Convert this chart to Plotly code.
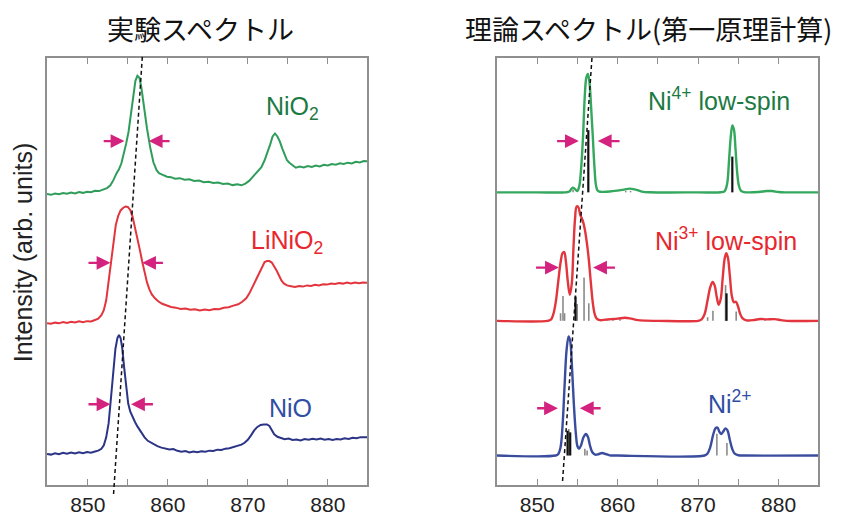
import plotly.graph_objects as go

# ---------------- Experimental spectra (left panel) ----------------
# energy (eV) and intensity (arb. units, vertically offset)
niO2_E = [844.9, 845.4, 845.9, 846.4, 846.9, 847.4, 847.9, 848.4, 848.9, 849.4, 849.9, 850.4, 850.9, 851.4,
          851.9, 852.4, 852.8, 853.2, 853.6, 853.9, 854.2, 854.5, 854.8, 855.1, 855.4, 855.7, 855.95, 856.2,
          856.45, 856.7, 857.0, 857.4, 857.8, 858.2, 858.6, 858.9, 859.3, 859.9, 860.4, 860.9, 861.5, 862.1,
          862.7, 863.3, 863.9, 864.5, 865.1, 865.7, 866.3, 866.9, 867.5, 868.1, 868.7, 869.2, 869.7, 870.2,
          870.7, 871.2, 871.7, 872.1, 872.5, 872.8, 873.1, 873.4, 873.7, 874.0, 874.3, 874.6, 874.9, 875.2,
          875.6, 876.0, 876.5, 877.0, 877.5, 878.0, 878.5, 879.0, 879.5, 880.0, 880.5, 881.0, 881.5, 882.0,
          882.5, 883.0, 883.5, 884.0, 884.5, 884.9]
niO2_I = [293.0, 292.2, 293.6, 292.8, 294.1, 293.3, 294.5, 293.6, 295.0, 294.2, 295.3, 294.8, 296.2, 296.0,
          297.5, 299.0, 301.5, 307.0, 314.0, 318.0, 324.0, 333.0, 344.0, 356.0, 374.0, 396.0, 407.0, 412.0,
          410.0, 400.0, 382.0, 359.0, 340.0, 325.0, 317.0, 314.0, 312.5, 310.5, 310.0, 308.5, 309.0, 307.5,
          307.8, 306.2, 306.6, 305.0, 305.4, 304.2, 304.6, 303.2, 303.6, 302.0, 302.8, 301.8, 303.5, 306.5,
          311.0, 315.0, 320.0, 327.0, 335.0, 343.0, 351.0, 354.0, 351.0, 346.0, 339.0, 332.0, 327.0, 324.5,
          321.5, 319.5, 320.8, 319.8, 321.2, 320.2, 321.6, 320.8, 322.4, 321.8, 323.2, 322.6, 324.0, 323.2,
          324.6, 323.8, 325.4, 324.8, 326.2, 326.0]

liniO2_E = [844.9, 845.4, 845.9, 846.4, 846.9, 847.4, 847.9, 848.4, 848.9, 849.4, 849.9, 850.4, 850.9, 851.3,
            851.7, 852.0, 852.3, 852.6, 852.9, 853.2, 853.5, 853.8, 854.1, 854.4, 854.7, 855.0, 855.3, 855.6,
            855.9, 856.2, 856.5, 856.8, 857.1, 857.4, 857.7, 858.0, 858.4, 858.8, 859.3, 859.8, 860.4, 861.0,
            861.6, 862.2, 862.8, 863.4, 864.0, 864.6, 865.2, 865.8, 866.4, 867.0, 867.6, 868.2, 868.8, 869.3,
            869.8, 870.2, 870.6, 871.0, 871.4, 871.8, 872.1, 872.4, 872.7, 873.0, 873.3, 873.6, 873.9, 874.2,
            874.5, 874.9, 875.4, 875.9, 876.4, 876.9, 877.4, 877.9, 878.4, 878.9, 879.4, 879.9, 880.4, 880.9,
            881.4, 881.9, 882.4, 882.9, 883.4, 883.9, 884.4, 884.9]
liniO2_I = [163.0, 162.3, 163.5, 162.8, 164.0, 163.2, 164.3, 163.6, 164.8, 164.0, 165.0, 164.6, 166.2, 167.5,
            171.0, 176.0, 186.0, 205.0, 228.0, 247.0, 262.0, 271.0, 276.5, 279.0, 280.5, 280.0, 277.0, 270.0,
            260.0, 249.0, 237.0, 225.0, 214.0, 204.0, 197.0, 192.0, 188.0, 185.0, 182.5, 181.0, 179.2, 178.6,
            177.2, 177.8, 176.4, 176.9, 175.8, 176.6, 176.0, 177.2, 177.0, 178.4, 179.0, 180.6, 182.0, 184.5,
            188.0, 193.0, 200.0, 207.0, 214.0, 221.0, 224.5, 225.5, 225.5, 224.0, 220.5, 216.0, 211.0, 206.0,
            203.0, 201.0, 200.2, 199.4, 200.4, 199.8, 201.0, 200.4, 201.6, 201.0, 202.2, 201.8, 203.0, 202.4,
            203.4, 202.8, 203.8, 203.0, 204.0, 203.2, 204.0, 203.6]

niO_E = [844.9, 845.4, 845.9, 846.4, 846.9, 847.4, 847.9, 848.4, 848.9, 849.4, 849.9, 850.4, 850.9, 851.3,
         851.7, 852.0, 852.3, 852.6, 852.9, 853.2, 853.45, 853.7, 853.9, 854.1, 854.3, 854.55, 854.8, 855.05,
         855.3, 855.6, 855.9, 856.2, 856.5, 856.8, 857.1, 857.5, 857.9, 858.3, 858.7, 859.2, 859.7, 860.2,
         860.7, 861.2, 861.7, 862.2, 862.7, 863.2, 863.7, 864.2, 864.7, 865.2, 865.7, 866.2, 866.7, 867.2,
         867.7, 868.2, 868.7, 869.2, 869.6, 870.0, 870.4, 870.8, 871.2, 871.6, 872.0, 872.4, 872.7, 873.0,
         873.3, 873.7, 874.1, 874.6, 875.1, 875.6, 876.1, 876.6, 877.1, 877.6, 878.1, 878.6, 879.1, 879.6,
         880.1, 880.6, 881.1, 881.6, 882.1, 882.6, 883.1, 883.6, 884.1, 884.6, 884.9]
niO_I = [31.3, 30.6, 32.0, 31.0, 32.4, 31.6, 32.8, 31.8, 32.9, 32.1, 33.2, 32.6, 33.8, 34.6,
         36.5, 40.0, 48.0, 62.0, 88.0, 116.0, 137.0, 148.0, 151.0, 148.0, 138.0, 118.0, 97.0, 82.0,
         74.0, 68.0, 63.5, 59.0, 55.0, 52.0, 48.0, 44.5, 42.6, 40.6, 39.2, 37.6, 37.0, 35.8,
         36.2, 34.4, 33.6, 34.2, 32.8, 33.6, 32.9, 34.0, 33.4, 34.6, 34.2, 35.6, 35.2, 36.6,
         37.0, 38.2, 39.0, 40.6, 42.5, 45.5, 50.0, 55.0, 58.5, 60.5, 60.8, 61.0, 59.5, 55.5,
         51.0, 48.6, 47.4, 46.2, 46.8, 45.4, 45.8, 44.9, 46.2, 45.6, 46.6, 45.8, 46.8, 45.6,
         46.4, 45.4, 46.2, 45.8, 47.0, 46.4, 47.6, 47.0, 48.2, 47.6, 48.0]

# ---------------- Theoretical spectra (right panel) ----------------
ni4_E = [845.0, 850.0, 853.5, 854.0, 854.4, 854.7, 854.95, 855.2, 855.45, 855.7, 855.9, 856.1, 856.3, 856.5,
         856.7, 856.9, 857.1, 857.3, 857.5, 857.8, 858.2, 859.0, 860.0, 860.8, 861.5, 862.2, 863.0, 864.0,
         870.0, 872.8, 873.3, 873.6, 873.85, 874.05, 874.25, 874.45, 874.65, 874.85, 875.05, 875.3, 875.7,
         877.5, 878.5, 879.2, 880.0, 881.0, 884.9]
ni4_I = [294.7, 294.7, 294.7, 295.5, 299.5, 298.0, 296.0, 300.0, 318.0, 352.0, 390.0, 410.0, 414.0, 405.0,
         380.0, 352.0, 322.0, 302.0, 296.5, 295.3, 295.2, 295.5, 296.5, 297.5, 298.5, 297.5, 295.5, 294.8,
         294.7, 294.8, 296.0, 303.0, 328.0, 350.0, 362.0, 358.0, 338.0, 315.0, 302.0, 296.5, 295.0,
         295.0, 296.0, 296.0, 295.0, 294.7, 294.7]
ni4_base = 294.7
ni4_stick_E_strong = [856.35, 874.25]
ni4_stick_h_strong = [62.6, 36.0]
ni4_stick_E_weak = [854.45, 861.0, 861.6]
ni4_stick_h_weak = [3.0, 1.5, 1.5]

ni3_E = [845.0, 851.3, 851.7, 852.0, 852.3, 852.6, 852.9, 853.15, 853.35, 853.55, 853.8, 854.05, 854.3, 854.5,
         854.7, 854.9, 855.1, 855.35, 855.65, 855.9, 856.15, 856.4, 856.65, 856.9, 857.15, 857.4, 857.8,
         858.5, 859.2, 860.0, 860.9, 861.7, 862.5, 863.5, 865.0, 870.0, 870.4, 870.8, 871.15, 871.5, 871.8,
         872.05, 872.3, 872.55, 872.8, 873.05, 873.3, 873.5, 873.7, 873.95, 874.2, 874.45, 874.7, 874.95,
         875.2, 875.5, 876.0, 877.0, 877.7, 878.5, 879.5, 880.3, 881.0, 884.9]
ni3_I = [165.3, 165.3, 166.5, 172.0, 184.0, 204.0, 224.0, 233.5, 234.5, 226.0, 205.0, 191.5, 203.0, 238.0,
         268.0, 280.5, 280.0, 272.0, 266.5, 258.0, 245.0, 228.0, 205.0, 184.0, 172.0, 167.5, 166.0,
         166.5, 167.0, 167.5, 168.5, 167.5, 166.0, 165.5, 165.3, 165.3, 166.5, 172.0, 185.0, 199.0, 204.5,
         201.0, 190.0, 181.5, 187.0, 208.0, 228.0, 233.5, 229.0, 210.0, 190.0, 184.0, 184.5, 180.0,
         173.0, 168.0, 165.8, 166.2, 167.2, 166.8, 167.0, 166.0, 165.3, 165.3]
ni3_base = 165.3
ni3_stick_E_strong = [854.76, 873.53]
ni3_stick_h_strong = [24.4, 27.7]
ni3_stick_E_weak = [852.9, 853.2, 853.4, 854.97, 855.82, 856.41, 871.18, 871.84, 873.41, 874.73,
                    858.6, 859.4, 860.3, 878.3]
ni3_stick_h_weak = [7.7, 25.0, 7.7, 17.0, 43.7, 17.7, 3.7, 10.3, 36.0, 9.3,
                    1.5, 1.5, 1.5, 1.5]

ni2_E = [845.0, 852.3, 852.6, 852.9, 853.15, 853.4, 853.65, 853.9, 854.1, 854.3, 854.55, 854.8, 855.0, 855.2,
         855.45, 855.75, 856.05, 856.3, 856.55, 856.85, 857.2, 857.6, 858.05, 858.5, 859.0, 860.0, 870.8,
         871.15, 871.5, 871.85, 872.15, 872.4, 872.65, 872.85, 873.1, 873.4, 873.65, 873.95, 874.25,
         874.55, 875.0, 876.0, 884.9]
ni2_I = [29.7, 29.7, 31.0, 38.0, 60.0, 100.0, 136.0, 149.7, 145.0, 122.0, 82.0, 52.0, 39.0, 36.5,
         40.0, 48.0, 51.3, 48.5, 40.0, 33.0, 30.6, 31.0, 32.3, 31.2, 29.9, 29.7, 29.7,
         31.5, 38.0, 50.0, 57.0, 57.8, 53.5, 51.3, 53.5, 57.0, 55.0, 45.0, 36.0,
         31.5, 30.0, 29.7, 29.7]
ni2_base = 29.7
ni2_stick_E_strong = [853.77, 854.1]
ni2_stick_h_strong = [25.0, 23.3]
ni2_stick_E_weak = [853.93, 855.92, 856.2, 872.33, 873.58]
ni2_stick_h_weak = [26.7, 6.7, 5.0, 22.0, 12.5]

# FWHM arrows: (y level, left tail, left tip, right tail, right tip)
exp_arrows = [(346.3, 851.8, 854.58, 860.41, 857.62),
              (223.7, 849.9, 852.83, 859.58, 856.79),
              (81.3, 849.9, 852.83, 858.33, 855.41)]
th_arrows = [(346.3, 852.28, 855.17, 860.42, 857.53),
             (219.0, 849.67, 852.69, 859.85, 856.95),
             (77.3, 849.8, 852.57, 858.07, 855.3)]

# dashed guide lines: (E bottom, I bottom, E top, I top)
exp_guide = (853.22, -9.0, 856.82, 432.0)
th_guide = (853.15, 4.0, 856.83, 433.0)

# labels
exp_labels = [("NiO<sub>2</sub>", 872.0, 380.0), ("LiNiO<sub>2</sub>", 870.1, 244.7), ("NiO", 872.4, 78.0)]
th_labels = [("Ni<sup>4+</sup> low-spin", 863.56, 389.0), ("Ni<sup>3+</sup> low-spin", 864.39, 247.5),
             ("Ni<sup>2+</sup>", 871.0, 84.0)]

tick_vals = [850, 855, 860, 865, 870, 875, 880]
tick_text = ["850", "", "860", "", "870", "", "880"]
titles = ["実験スペクトル", "理論スペクトル(第一原理計算)"]
ylabel = "Intensity (arb. units)"

# ---------------- styling ----------------
GREEN_L, RED_L, BLUE_L = "#2f9d5a", "#e2353d", "#2b3486"
GREEN_T, RED_T, BLUE_T = "#1c7a43", "#e8262d", "#2f4ea4"
GREEN_TH, BLUE_TH = "#34a85d", "#3a4c9e"
MAGENTA = "#d4237f"
YMAX = 430

fig = go.Figure()


def add_line(E, I, color, xa, ya, width=1.8, shape="linear"):
    fig.add_trace(go.Scatter(x=E, y=I, mode="lines", line=dict(color=color, width=width, shape=shape),
                             xaxis=xa, yaxis=ya, showlegend=False, hoverinfo="skip"))


def add_sticks(Es, hs, base, color, width, xa, ya):
    xs, ys = [], []
    for e, h in zip(Es, hs):
        xs += [e, e, None]
        ys += [base, base + h, None]
    fig.add_trace(go.Scatter(x=xs, y=ys, mode="lines", line=dict(color=color, width=width),
                             xaxis=xa, yaxis=ya, showlegend=False, hoverinfo="skip"))


add_line(niO2_E, niO2_I, GREEN_L, "x", "y", width=2.0)
add_line(liniO2_E, liniO2_I, RED_L, "x", "y", width=2.0)
add_line(niO_E, niO_I, BLUE_L, "x", "y", width=2.0)

for Es, hs, base in [(ni4_stick_E_weak, ni4_stick_h_weak, ni4_base),
                     (ni3_stick_E_weak, ni3_stick_h_weak, ni3_base),
                     (ni2_stick_E_weak, ni2_stick_h_weak, ni2_base)]:
    add_sticks(Es, hs, base, "#8a8a8a", 1.6, "x2", "y2")
for Es, hs, base in [(ni4_stick_E_strong, ni4_stick_h_strong, ni4_base),
                     (ni3_stick_E_strong, ni3_stick_h_strong, ni3_base),
                     (ni2_stick_E_strong, ni2_stick_h_strong, ni2_base)]:
    add_sticks(Es, hs, base, "#111111", 2.2, "x2", "y2")

add_line(ni4_E, ni4_I, GREEN_TH, "x2", "y2", width=2.4, shape="spline")
add_line(ni3_E, ni3_I, RED_L, "x2", "y2", width=2.4, shape="spline")
add_line(ni2_E, ni2_I, BLUE_TH, "x2", "y2", width=2.4, shape="spline")

annotations = []
for arrows, xr, yr in [(exp_arrows, "x", "y"), (th_arrows, "x2", "y2")]:
    for (yv, lt, lh, rt, rh) in arrows:
        for tail, head in [(lt, lh), (rt, rh)]:
            annotations.append(dict(x=head, y=yv, ax=tail, ay=yv, xref=xr, yref=yr, axref=xr, ayref=yr,
                                    text="", showarrow=True, arrowhead=2, arrowsize=1.2, arrowwidth=2.3,
                                    arrowcolor=MAGENTA, standoff=0, startstandoff=0))

for (txt, ex, iy), col in zip(exp_labels, [GREEN_T, RED_T, BLUE_T]):
    annotations.append(dict(x=ex, y=iy, xref="x", yref="y", text=txt, showarrow=False, xanchor="left",
                            yanchor="middle", font=dict(family="Liberation Sans, Arial", size=25, color=col)))
for (txt, ex, iy), col in zip(th_labels, [GREEN_T, RED_T, BLUE_T]):
    annotations.append(dict(x=ex, y=iy, xref="x2", yref="y2", text=txt, showarrow=False, xanchor="left",
                            yanchor="middle", font=dict(family="Liberation Sans, Arial", size=25, color=col)))

# panel titles
L0, L1 = 47 / 851, 367 / 851
R0, R1 = 497 / 851, 818 / 851
annotations.append(dict(x=0.236, y=1.07, xref="paper", yref="paper", text=titles[0], showarrow=False,
                        xanchor="center", yanchor="middle",
                        font=dict(family="Noto Sans CJK JP", size=27, color="#111111")))
annotations.append(dict(x=0.7615, y=1.07, xref="paper", yref="paper", text=titles[1], showarrow=False,
                        xanchor="center", yanchor="middle",
                        font=dict(family="Noto Sans CJK JP", size=27, color="#111111")))
annotations.append(dict(x=23 / 851, y=0.545, xref="paper", yref="paper", text=ylabel, showarrow=False,
                        textangle=-90, xanchor="center", yanchor="middle",
                        font=dict(family="Liberation Sans, Arial", size=25, color="#222222")))

shapes = []
for (eb, ib, et, it), xr in [(exp_guide, "x"), (th_guide, "x2")]:
    shapes.append(dict(type="line", xref=xr, yref="paper", x0=eb, y0=ib / YMAX, x1=et, y1=it / YMAX,
                       line=dict(color="#111111", width=1.5, dash="4px,3px")))

xaxis_style = dict(showline=True, linecolor="#8f8f8f", linewidth=1.5, mirror="ticks", ticks="inside",
                   ticklen=6, tickwidth=1.3, tickcolor="#8f8f8f", tickvals=tick_vals, ticktext=tick_text,
                   tickfont=dict(family="Liberation Sans, Arial", size=21, color="#222222"),
                   showgrid=False, zeroline=False, fixedrange=True)
yaxis_style = dict(showline=True, linecolor="#8f8f8f", linewidth=1.5, mirror=True, ticks="",
                   showticklabels=False, showgrid=False, zeroline=False, range=[0, YMAX], fixedrange=True)

fig.update_layout(
    width=851, height=516,
    margin=dict(l=0, r=0, t=58, b=28),
    paper_bgcolor="white", plot_bgcolor="white",
    xaxis=dict(domain=[L0, L1], range=[844.9, 884.9], **xaxis_style),
    yaxis=dict(anchor="x", **yaxis_style),
    xaxis2=dict(domain=[R0, R1], range=[845.0, 884.9], anchor="y2", **xaxis_style),
    yaxis2=dict(anchor="x2", **yaxis_style),
    annotations=annotations,
    shapes=shapes,
    showlegend=False,
)

fig.write_html("out.html")
